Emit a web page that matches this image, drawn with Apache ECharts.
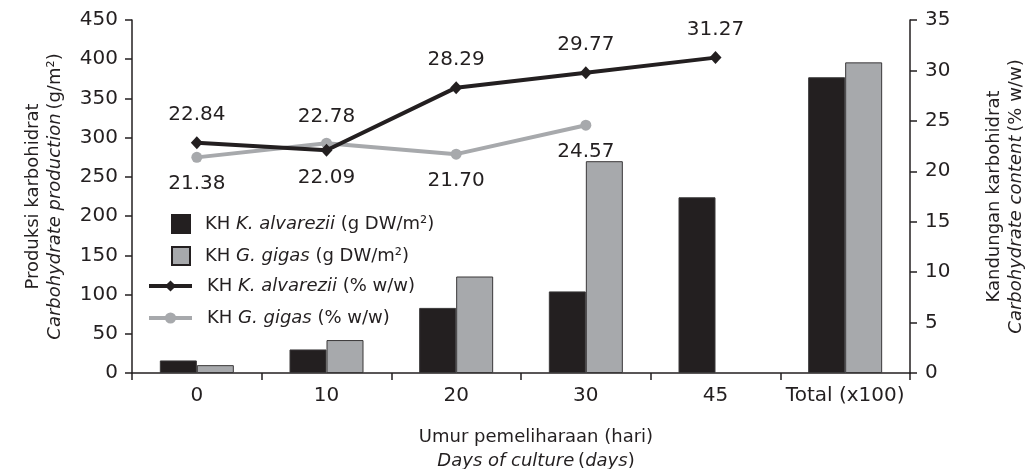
<!DOCTYPE html>
<html>
<head>
    <meta charset="utf-8">
    <title>Karbohidrat K. alvarezii dan G. gigas</title>
    <script src="https://cdn.jsdelivr.net/npm/echarts@6/dist/echarts.min.js"></script>
    <style>
        html, body { margin: 0; padding: 0; background: #fff; }
        #chart { width: 1035px; height: 469px; }
    </style>
</head>
<body>
    <div id="chart"></div>

    <script>
        // data
        var categories = ['0', '10', '20', '30', '45', 'Total (x100)'];
        var kBarValues = [16, 30, 83, 104, 224, 377];          // g DW/m2
        var gBarValues = [10, 42, 123, 270, null, 396];         // g DW/m2
        var kPctValues = [22.84, 22.09, 28.29, 29.77, 31.27, null]; // % w/w
        var gPctValues = [21.38, 22.78, 21.70, 24.57, null, null];  // % w/w
        var leftTicks = { min: 0, max: 450, interval: 50 };
        var rightTicks = { min: 0, max: 35, interval: 5 };

        var names = {
            kBar: 'KH K. alvarezii (g DW/m²)',
            gBar: 'KH G. gigas (g DW/m²)',
            kPct: 'KH K. alvarezii (% w/w)',
            gPct: 'KH G. gigas (% w/w)'
        };
        // rich text for the legend (species names in italic)
        var legendText = {};
        legendText[names.kBar] = '{p|KH }{i|K. alvarezii}{n| (g DW/m²)}';
        legendText[names.gBar] = '{p|KH }{i|G. gigas}{n| (g DW/m²)}';
        legendText[names.kPct] = '{p|KH }{i|K. alvarezii}{n| (% w/w)}';
        legendText[names.gPct] = '{p|KH }{i|G. gigas}{n| (% w/w)}';

        var ink = '#231f20';
        var grey = '#a7a9ac';
        var font = 'DejaVu Sans';

        var legendRich = {
            p: { fontFamily: font, fontSize: 18, color: ink, padding: [0, 0, 0, 10] },
            n: { fontFamily: font, fontSize: 18, color: ink },
            i: { fontFamily: font, fontSize: 18, color: ink, fontStyle: 'italic' }
        };
        function titleRich(lh) {
            return {
                n: { fontFamily: font, fontSize: 18, color: ink, lineHeight: lh },
                i: { fontFamily: font, fontSize: 18, color: ink, fontStyle: 'italic', lineHeight: lh }
            };
        }

        function pctLabel(p) {
            return p.value == null ? '' : p.value.toFixed(2);
        }

        // the point at day 10 swaps label sides for both lines
        var kPctData = kPctValues.map(function (v, i) {
            return { value: v, label: { position: i === 1 ? 'bottom' : 'top' } };
        });
        var gPctData = gPctValues.map(function (v, i) {
            return { value: v, label: { position: i === 1 ? 'top' : 'bottom' } };
        });

        var chart = echarts.init(document.getElementById('chart'));

        var axisCommon = {
            axisLine: { show: true, lineStyle: { color: ink, width: 1.5 } },
            axisTick: { show: true, inside: false, length: 7, lineStyle: { color: ink, width: 1.5 } },
            splitLine: { show: false }
        };

        var option = {
            animation: false,
            backgroundColor: '#fff',
            textStyle: { fontFamily: font, color: ink },
            grid: { left: 132, right: 125, top: 20, bottom: 96, outerBoundsMode: 'none', containLabel: false },
            legend: [
                {
                    data: [
                        { name: names.kBar, icon: 'rect' },
                        { name: names.gBar, icon: 'rect' }
                    ],
                    orient: 'vertical',
                    left: 166,
                    top: 209,
                    itemWidth: 18,
                    itemHeight: 18,
                    itemGap: 12,
                    selectedMode: false,
                    itemStyle: { borderColor: ink, borderWidth: 2 },
                    formatter: function (n) { return legendText[n]; },
                    textStyle: { rich: legendRich }
                },
                {
                    data: [names.kPct, names.gPct],
                    orient: 'vertical',
                    left: 142,
                    top: 272,
                    itemWidth: 43,
                    itemHeight: 14,
                    itemGap: 14,
                    selectedMode: false,
                    lineStyle: { width: 4 },
                    formatter: function (n) { return legendText[n]; },
                    textStyle: { rich: legendRich }
                }
            ],
            xAxis: Object.assign({}, axisCommon, {
                type: 'category',
                data: categories,
                axisTick: { show: true, inside: false, length: 7, alignWithLabel: false, lineStyle: { color: ink, width: 1.5 } },
                axisLabel: { interval: 0, fontFamily: font, fontSize: 20, color: ink, margin: 13 },
                name: '{n|Umur pemeliharaan (hari)}\n{i|Days of culture} {n|(}{i|days}{n|)}',
                nameLocation: 'middle',
                nameGap: 52,
                nameTextStyle: { rich: titleRich(24), padding: [0, 0, 0, 30] }
            }),
            yAxis: [
                Object.assign({}, axisCommon, {
                    type: 'value',
                    min: leftTicks.min,
                    max: leftTicks.max,
                    interval: leftTicks.interval,
                    axisLabel: { fontFamily: font, fontSize: 20, color: ink, margin: 14 },
                    name: '{n|Produksi karbohidrat}\n{i|Carbohydrate production} {n|(g/m²)}',
                    nameLocation: 'middle',
                    nameRotate: 90,
                    nameGap: 66,
                    nameTextStyle: { rich: titleRich(22) }
                }),
                Object.assign({}, axisCommon, {
                    type: 'value',
                    position: 'right',
                    min: rightTicks.min,
                    max: rightTicks.max,
                    interval: rightTicks.interval,
                    axisLabel: { fontFamily: font, fontSize: 20, color: ink, margin: 15 },
                    name: '{n|Kandungan karbohidrat}\n{i|Carbohydrate content} {n|(% w/w)}',
                    nameLocation: 'middle',
                    nameRotate: 90,
                    nameGap: 73,
                    nameTextStyle: { rich: titleRich(22) }
                })
            ],
            series: [
                {
                    name: names.kBar,
                    type: 'bar',
                    data: kBarValues,
                    barWidth: 37,
                    barGap: '0%',
                    itemStyle: { color: ink, borderColor: '#3a3839', borderWidth: 1 }
                },
                {
                    name: names.gBar,
                    type: 'bar',
                    data: gBarValues,
                    barWidth: 37,
                    barGap: '0%',
                    itemStyle: { color: grey, borderColor: '#3a3839', borderWidth: 1 }
                },
                {
                    name: names.kPct,
                    type: 'line',
                    yAxisIndex: 1,
                    data: kPctData,
                    symbol: 'diamond',
                    symbolSize: [12, 13],
                    lineStyle: { color: ink, width: 4 },
                    itemStyle: { color: ink },
                    label: {
                        show: true,
                        distance: 11,
                        fontFamily: font,
                        fontSize: 20,
                        color: ink,
                        formatter: pctLabel
                    },
                    z: 5
                },
                {
                    name: names.gPct,
                    type: 'line',
                    yAxisIndex: 1,
                    data: gPctData,
                    symbol: 'circle',
                    symbolSize: 11,
                    lineStyle: { color: grey, width: 4 },
                    itemStyle: { color: grey },
                    label: {
                        show: true,
                        distance: 11,
                        fontFamily: font,
                        fontSize: 20,
                        color: ink,
                        formatter: pctLabel
                    },
                    z: 4
                }
            ]
        };

        chart.setOption(option);
    </script>
</body>
</html>
